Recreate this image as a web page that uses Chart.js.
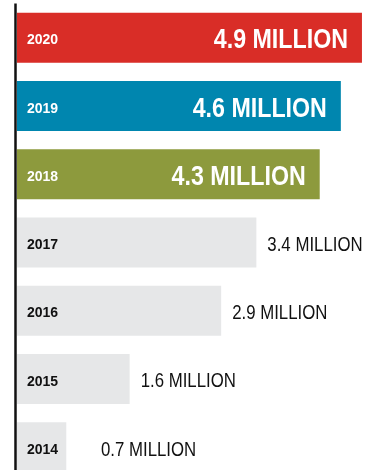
<!DOCTYPE html>
<html>
<head>
<meta charset="utf-8">
<script src="https://cdn.jsdelivr.net/npm/chart.js@4"></script>
<style>
    html, body {
        margin: 0;
        padding: 0;
        background: #ffffff;
        overflow: hidden;
    }
    #wrap {
        position: relative;
        width: 369px;
        height: 482px;
    }
</style>
</head>
<body>
<div id="wrap">
    <canvas id="barChart"></canvas>
</div>
<script>

const ANIOS = ["2020", "2019", "2018", "2017", "2016", "2015", "2014"];

const VALORES = [4.9, 4.6, 4.3, 3.4, 2.9, 1.6, 0.7];

const ETIQUETAS = [
    "4.9 MILLION",
    "4.6 MILLION",
    "4.3 MILLION",
    "3.4 MILLION",
    "2.9 MILLION",
    "1.6 MILLION",
    "0.7 MILLION"
];

const COLORES = [
    "#d92d27",
    "#0086af",
    "#8d9a3d",
    "#e6e7e8",
    "#e6e7e8",
    "#e6e7e8",
    "#e6e7e8"
];

// true = label goes inside the bar (big white text)
const DESTACADO = [true, true, true, false, false, false, false];

const FUENTE = "'Liberation Sans', Arial, sans-serif";

// no condensed font installed, so squeeze the text horizontally
function textoEstrecho(ctx, texto, x, y, escala) {
    ctx.save();
    ctx.translate(x, y);
    ctx.scale(escala, 1);
    ctx.fillText(texto, 0, 0);
    ctx.restore();
}

const ejeVertical = {
    id: "ejeVertical",
    afterDatasetsDraw(chart) {
        const { ctx, chartArea } = chart;
        ctx.save();
        ctx.strokeStyle = "#111111";
        ctx.lineWidth = 2.5;
        ctx.beginPath();
        ctx.moveTo(chartArea.left - 1.5, chartArea.top);
        ctx.lineTo(chartArea.left - 1.5, chartArea.bottom);
        ctx.stroke();
        ctx.restore();
    }
};

const etiquetas = {
    id: "etiquetas",
    afterDatasetsDraw(chart) {
        const { ctx, chartArea } = chart;
        const meta = chart.getDatasetMeta(0);
        ctx.save();
        ctx.textBaseline = "alphabetic";
        meta.data.forEach((bar, i) => {
            const cy = bar.y;

            // year
            ctx.font = "bold 14px " + FUENTE;
            ctx.textAlign = "left";
            ctx.fillStyle = DESTACADO[i] ? "#ffffff" : "#111111";
            ctx.fillText(ANIOS[i], chartArea.left + 10, cy + 6.6);

            // value
            if (DESTACADO[i]) {
                ctx.font = "bold 27px " + FUENTE;
                ctx.textAlign = "right";
                ctx.fillStyle = "#ffffff";
                textoEstrecho(ctx, ETIQUETAS[i], bar.x - 14, cy + 10.6, 0.86);
            } else {
                ctx.font = "20px " + FUENTE;
                ctx.textAlign = "left";
                ctx.fillStyle = "#111111";
                // keep clear of the year label on very short bars
                const x = Math.max(bar.x + 11, chartArea.left + 84);
                textoEstrecho(ctx, ETIQUETAS[i], x, cy + 8.3, 0.84);
            }
        });
        ctx.restore();
    }
};

new Chart(document.getElementById("barChart"), {
    type: "bar",
    data: {
        labels: ANIOS,
        datasets: [
            {
                data: VALORES,
                backgroundColor: COLORES,
                borderWidth: 0,
                barPercentage: 0.732,
                categoryPercentage: 1
            }
        ]
    },
    options: {
        indexAxis: "y",
        responsive: true,
        maintainAspectRatio: false,
        animation: false,
        layout: {
            padding: { left: 17, top: 3.5, right: 0, bottom: 0.5 }
        },
        plugins: {
            legend: { display: false },
            tooltip: { enabled: false }
        },
        scales: {
            x: {
                display: false,
                min: 0,
                max: 5
            },
            y: {
                display: false
            }
        }
    },
    plugins: [ejeVertical, etiquetas]
});

</script>
</body>
</html>
